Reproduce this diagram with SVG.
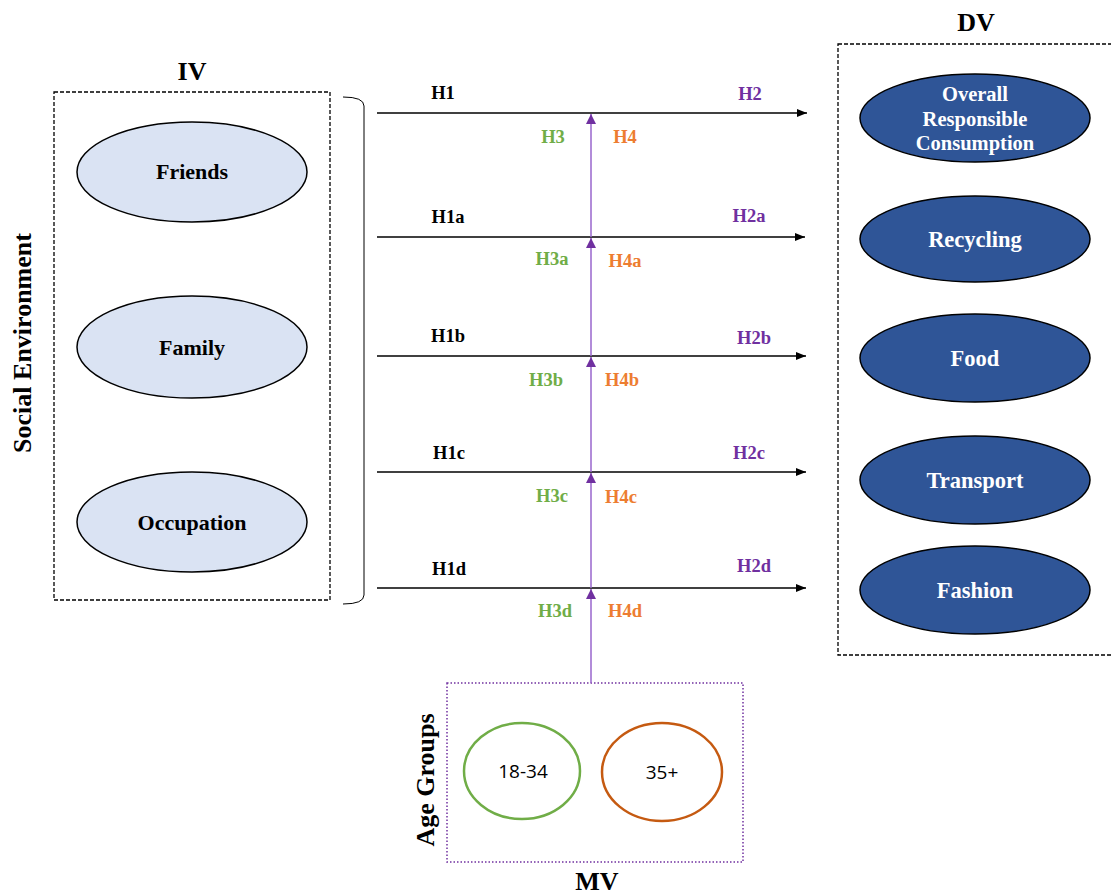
<svg xmlns="http://www.w3.org/2000/svg" width="1111" height="896" viewBox="0 0 1111 896">
<defs>
<marker id="ab" markerWidth="10" markerHeight="8" refX="10" refY="4" orient="auto" markerUnits="userSpaceOnUse"><path d="M0,0 L10,4 L0,8 Z" fill="#000"/></marker>
<marker id="ap" markerWidth="10" markerHeight="10" refX="10" refY="5" orient="auto" markerUnits="userSpaceOnUse"><path d="M0,0 L10,5 L0,10 Z" fill="#7030A0"/></marker>
<style>
text{font-family:"Liberation Serif","Times New Roman",serif;font-weight:bold;text-anchor:middle}
.h{font-size:18.5px}
.k{fill:#000}.p{fill:#7030A0}.g{fill:#70AD47}.o{fill:#ED7D31}
.iv{fill:#DAE3F3;stroke:#000;stroke-width:1.5}
.dv{fill:#2F5597;stroke:#000;stroke-width:1.5}
.ivt{font-size:22px;fill:#000}
.dvt{font-size:22.5px;fill:#fff}
.hl{stroke:#000;stroke-width:1.5;fill:none}
.vl{stroke:#9966CC;stroke-width:1.5;fill:none}
.num{font-family:"Open Sans","Liberation Sans",sans-serif;font-weight:normal;font-size:19px}
</style>
</defs>
<rect width="1111" height="896" fill="#fff"/>
<g id="iv-box">
<rect x="54" y="92" width="276" height="508" fill="none" stroke="#000" stroke-width="1.3" stroke-dasharray="4,2"/>
<text x="192" y="80" style="font-size:26px">IV</text>
<text x="31" y="343" transform="rotate(-90 31 343)" style="font-size:26px">Social Environment</text>
<path d="M343,97 Q364,97 364,106 L364,595 Q364,604 343,604" fill="none" stroke="#000" stroke-width="1"/>
</g>
<g id="friends"><ellipse class="iv" cx="192" cy="172" rx="115" ry="50"/><text class="ivt" x="192" y="179">Friends</text></g>
<g id="family"><ellipse class="iv" cx="192" cy="347" rx="115" ry="51"/><text class="ivt" x="192" y="355">Family</text></g>
<g id="occupation"><ellipse class="iv" cx="192" cy="522" rx="115" ry="50"/><text class="ivt" x="192" y="530">Occupation</text></g>
<g id="dv-box">
<rect x="838" y="44" width="290" height="611" fill="none" stroke="#000" stroke-width="1.3" stroke-dasharray="4,2"/>
<text x="976" y="31" style="font-size:26px">DV</text>
</g>
<g id="overall"><ellipse class="dv" cx="975" cy="118" rx="115" ry="44"/><text class="dvt" x="975" y="101" style="font-size:20.5px">Overall</text><text class="dvt" x="975" y="126" style="font-size:20.5px">Responsible</text><text class="dvt" x="975" y="150" style="font-size:20.5px">Consumption</text></g>
<g id="recycling"><ellipse class="dv" cx="975" cy="239" rx="115" ry="43"/><text class="dvt" x="975" y="247">Recycling</text></g>
<g id="food"><ellipse class="dv" cx="975" cy="358" rx="115" ry="44"/><text class="dvt" x="975" y="366">Food</text></g>
<g id="transport"><ellipse class="dv" cx="975" cy="480" rx="115" ry="44"/><text class="dvt" x="975" y="488">Transport</text></g>
<g id="fashion"><ellipse class="dv" cx="975" cy="590" rx="115" ry="44"/><text class="dvt" x="975" y="598">Fashion</text></g>
<g id="mv-box">
<rect x="447" y="683" width="296" height="179" fill="none" stroke="#7030A0" stroke-width="1.5" stroke-dasharray="1.5,2"/>
<text x="434" y="780" transform="rotate(-90 434 780)" style="font-size:26px">Age Groups</text>
<text x="597" y="890" style="font-size:26px">MV</text>
</g>
<g id="age-18-34"><ellipse cx="522" cy="771" rx="58" ry="48" fill="none" stroke="#70AD47" stroke-width="2.5"/><text class="num" x="523" y="778">18-34</text></g>
<g id="age-35"><ellipse cx="662" cy="772" rx="60" ry="49" fill="none" stroke="#C55A11" stroke-width="2.5"/><text class="num" x="662" y="779">35+</text></g>
<g id="connectors">
<line class="hl" x1="377" y1="113" x2="807" y2="113" marker-end="url(#ab)"/>
<line class="hl" x1="377" y1="237" x2="805" y2="237" marker-end="url(#ab)"/>
<line class="hl" x1="377" y1="356" x2="806" y2="356" marker-end="url(#ab)"/>
<line class="hl" x1="377" y1="472" x2="806" y2="472" marker-end="url(#ab)"/>
<line class="hl" x1="377" y1="588" x2="806" y2="588" marker-end="url(#ab)"/>
<line class="vl" x1="591" y1="683" x2="591" y2="589" marker-end="url(#ap)"/>
<line class="vl" x1="591" y1="588" x2="591" y2="473" marker-end="url(#ap)"/>
<line class="vl" x1="591" y1="472" x2="591" y2="357" marker-end="url(#ap)"/>
<line class="vl" x1="591" y1="356" x2="591" y2="238" marker-end="url(#ap)"/>
<line class="vl" x1="591" y1="237" x2="591" y2="114" marker-end="url(#ap)"/>
</g>
<g id="labels">
<text class="h k" x="443" y="99">H1</text><text class="h p" x="750" y="100">H2</text>
<text class="h g" x="553" y="143">H3</text><text class="h o" x="625" y="143">H4</text>
<text class="h k" x="448" y="223">H1a</text><text class="h p" x="749" y="222">H2a</text>
<text class="h g" x="552" y="265">H3a</text><text class="h o" x="625" y="267">H4a</text>
<text class="h k" x="448" y="342">H1b</text><text class="h p" x="754" y="344">H2b</text>
<text class="h g" x="546" y="386">H3b</text><text class="h o" x="622" y="386">H4b</text>
<text class="h k" x="449" y="459">H1c</text><text class="h p" x="749" y="459">H2c</text>
<text class="h g" x="552" y="502">H3c</text><text class="h o" x="621" y="503">H4c</text>
<text class="h k" x="449" y="575">H1d</text><text class="h p" x="754" y="572">H2d</text>
<text class="h g" x="555" y="617">H3d</text><text class="h o" x="625" y="617">H4d</text>
</g>
</svg>
